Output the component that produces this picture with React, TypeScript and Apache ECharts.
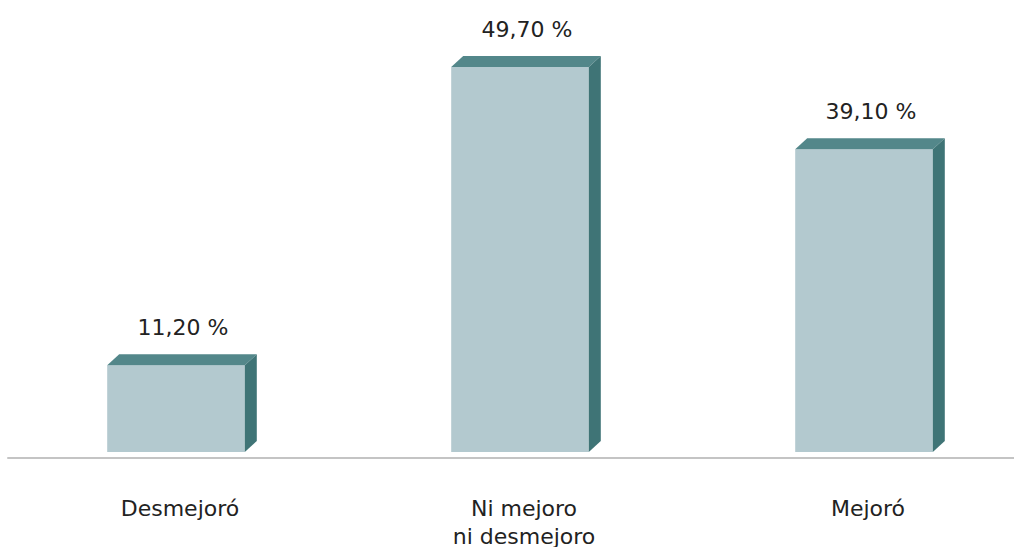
import React, { useEffect, useRef } from "react";
import * as echarts from "echarts";

const categories = ["Desmejoró", "Ni mejoro\nni desmejoro", "Mejoró"];
const values = [11.2, 49.7, 39.1];

const FRONT = "#b3c9cf";
const TOP = "#53878a";
const SIDE = "#3f7476";

export default function App() {
  const ref = useRef<HTMLDivElement>(null);
  useEffect(() => {
    if (!ref.current) return;
    const chart = echarts.init(ref.current, undefined, { renderer: "svg" });
    const dx = 12;
    const dy = 11;
    chart.setOption({
      animation: false,
      backgroundColor: "#ffffff",
      grid: {
        left: 8,
        top: 26,
        width: 1032,
        bottom: 95,
        containLabel: false,
        outerBoundsMode: "none",
      },
      xAxis: {
        type: "category",
        data: categories,
        offset: 6,
        axisLine: {
          show: true,
          onZero: false,
          lineStyle: { color: "#c4c4c4", width: 2 },
        },
        axisTick: { show: false },
        axisLabel: {
          margin: 36,
          fontFamily: "DejaVu Sans",
          fontSize: 22,
          lineHeight: 28,
          color: "#222222",
          interval: 0,
        },
      },
      yAxis: {
        type: "value",
        min: 0,
        max: 55,
        show: false,
        splitLine: { show: false },
      },
      series: [
        {
          type: "custom",
          data: values.map((v, i) => [i, v]),
          renderItem: (params: any, api: any) => {
            const i = api.value(0);
            const v = api.value(1);
            const t = api.coord([i, v]);
            const b = api.coord([i, 0]);
            const w = api.size([1, 0])[0] * 0.4;
            const c = t[0];
            const l = c - w / 2 - 4;
            const r = l + w;
            const ty = t[1];
            const by = b[1];
            const label = v.toFixed(2).replace(".", ",") + " %";
            return {
              type: "group",
              children: [
                {
                  type: "rect",
                  shape: { x: l, y: ty, width: w, height: by - ty },
                  style: { fill: FRONT },
                },
                {
                  type: "polygon",
                  shape: {
                    points: [
                      [l, ty],
                      [l + dx, ty - dy],
                      [r + dx, ty - dy],
                      [r, ty],
                    ],
                  },
                  style: { fill: TOP },
                },
                {
                  type: "polygon",
                  shape: {
                    points: [
                      [r, ty],
                      [r + dx, ty - dy],
                      [r + dx, by - dy],
                      [r, by],
                    ],
                  },
                  style: { fill: SIDE },
                },
                {
                  type: "text",
                  style: {
                    x: c + 3,
                    y: ty - dy - 27,
                    text: label,
                    align: "center",
                    verticalAlign: "middle",
                    fontFamily: "DejaVu Sans",
                    fontSize: 22,
                    fill: "#222222",
                  },
                },
              ],
            };
          },
        },
      ],
    });
    return () => chart.dispose();
  }, []);
  return (
    <div
      ref={ref}
      style={{ position: "fixed", left: 0, top: 0, width: 1014, height: 547 }}
    />
  );
}
